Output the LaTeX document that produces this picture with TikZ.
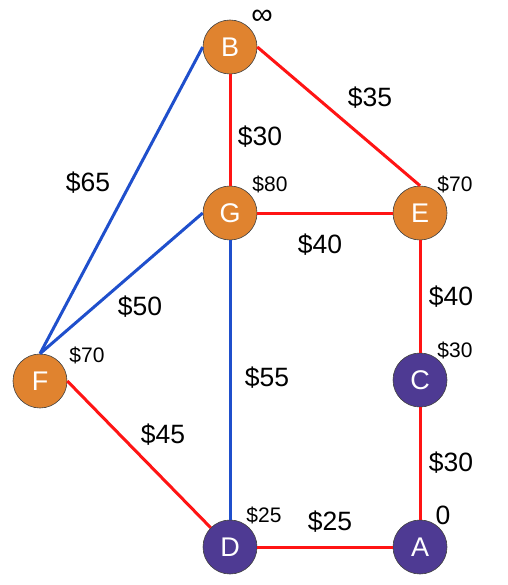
\documentclass[tikz,border=0pt]{standalone}
\usepackage{fontspec}
\setmainfont{Liberation Sans}
\usetikzlibrary{positioning}

\definecolor{nodeorange}{HTML}{E0832F}
\definecolor{nodepurple}{HTML}{4E3A93}
\definecolor{roadred}{HTML}{FF1414}
\definecolor{roadblue}{HTML}{1F4FCC}

\begin{document}
\begin{tikzpicture}[
    x=1pt, y=-1pt,
    base/.style={circle, draw=black!75, line width=0.6pt, minimum size=54pt, inner sep=0pt,
                 text=white, font=\fontsize{27}{27}\selectfont},
    city/.style={base, fill=nodeorange},
    visited/.style={base, fill=nodepurple},
    cost/.style={font=\fontsize{26.5}{26.5}\selectfont, inner sep=0pt},
    dist/.style={font=\fontsize{21}{21}\selectfont, inner sep=0pt},
    redroad/.style={roadred, line width=3pt},
    blueroad/.style={roadblue, line width=3pt}
]
    \useasboundingbox (0,0) rectangle (507,585);

    % Cities
    \node [city] (B) at (230,47) {B};
    \node [city] (G) at (230,213) {G};
    \node [city] (E) at (420,213) {E};
    \node [city] (F) at (40,381) {F};
    \node [visited] (C) at (420,380) {C};
    \node [visited] (D) at (230,547) {D};
    \node [visited] (A) at (420,547) {A};

    % Current distances
    \node [cost, font=\fontsize{30}{30}\selectfont] (dB) at (262,17) {∞};
    \node [dist] (dG) at (270,184) {\$80};
    \node [dist] (dE) at (455,184) {\$70};
    \node [dist] (dC) at (455,350) {\$30};
    \node [dist] (dF) at (87,355) {\$70};
    \node [dist] (dD) at (264,515) {\$25};
    \node [cost] (dA) at (443,515) {0};

    % Roads
    \draw [redroad] (B.south) -- (G.north);
    \draw [redroad] (B.east) -- (E.north);
    \draw [redroad] (G.east) -- (E.west);
    \draw [redroad] (E.south) -- (C.north);
    \draw [redroad] (C.south) -- (A.north);
    \draw [redroad] (D.east) -- (A.west);
    \draw [redroad] (F.east) -- (D.north west);
    \draw [blueroad] (G.south) -- (D.north);
    \draw [blueroad] (G.west) -- (F.north);
    \draw [blueroad] (B.west) -- (F.north);

    % Road costs
    \node [cost] (cBF) at (88,183) {\$65};
    \node [cost] (cBG) at (260,137) {\$30};
    \node [cost] (cBE) at (370,98) {\$35};
    \node [cost] (cGE) at (320,245) {\$40};
    \node [cost] (cGF) at (140,307) {\$50};
    \node [cost] (cGD) at (267,378) {\$55};
    \node [cost] (cEC) at (451,297) {\$40};
    \node [cost] (cFD) at (163,435) {\$45};
    \node [cost] (cCA) at (451,463) {\$30};
    \node [cost] (cDA) at (330,522) {\$25};

\end{tikzpicture}
\end{document}
